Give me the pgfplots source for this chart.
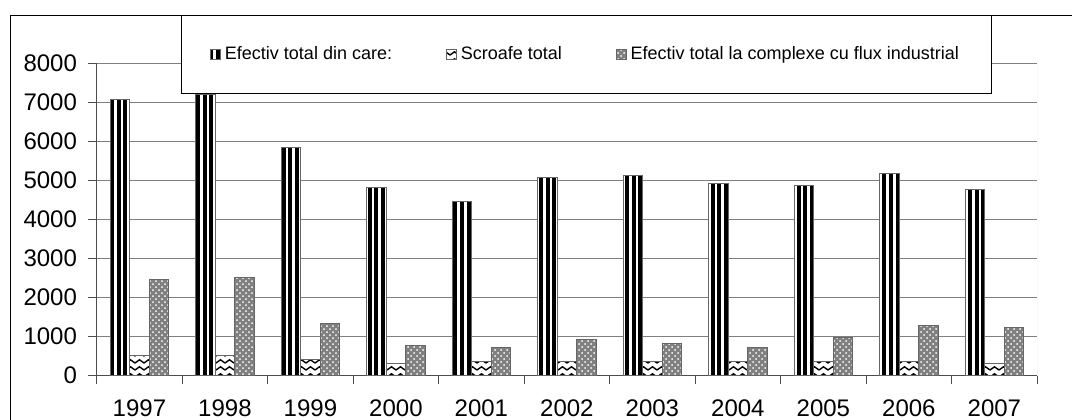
\documentclass[border=0pt]{standalone}
\usepackage{fontspec}
\setmainfont{Liberation Sans}
\usepackage{pgfplots}
\pgfplotsset{compat=1.18}
\usetikzlibrary{patterns,patterns.meta}

% white bars with wavy black lines (sows)
\pgfdeclarepatternformonly{zigzag}{\pgfqpoint{-1pt}{-1pt}}{\pgfqpoint{5.5pt}{3pt}}{\pgfqpoint{4.5pt}{3.5pt}}{%
  \pgfsetlinewidth{0.7pt}
  \pgfpathmoveto{\pgfqpoint{0pt}{0pt}}
  \pgfpathlineto{\pgfqpoint{2.25pt}{1.6pt}}
  \pgfpathlineto{\pgfqpoint{4.5pt}{0pt}}
  \pgfusepath{stroke}
}

\pgfplotsset{
  totalbar/.style={draw=black!60, line width=0.4pt, fill=white,
    postaction={pattern={Lines[angle=90,distance=3.3pt,line width=2pt]}, pattern color=black}},
  sowbar/.style={draw=black!60, line width=0.4pt, fill=white,
    postaction={pattern=zigzag, pattern color=black}},
  indbar/.style={draw=black!60, line width=0.4pt, fill=gray,
    postaction={pattern=crosshatch dots, pattern color=white}},
}

\begin{document}
\begin{tikzpicture}
\useasboundingbox (0,0) rectangle (536pt,-209.5pt);
\clip (0,0) rectangle (536pt,-209.5pt);
\draw[black, line width=0.5pt] (5.35pt,-7.5pt) rectangle (560pt,-230pt);
\begin{axis}[
    at={(48.35pt,-187.85pt)}, anchor=south west,
    scale only axis,
    width=470.2pt, height=156.2pt,
    ybar=0pt, bar width=9.7pt,
    xmin=-0.5, xmax=10.5,
    ymin=0, ymax=8000,
    ytick={0,1000,...,8000},
    xtick={0,...,10},
    xticklabels={1997,1998,1999,2000,2001,2002,2003,2004,2005,2006,2007},
    minor xtick={-0.5,0.5,...,10.5},
    axis x line*=bottom, axis y line*=left,
    axis line style={black!70, line width=0.5pt},
    tick align=outside,
    major tick length=4.35pt, minor tick length=4.35pt,
    tick style={black!70, line width=0.5pt},
    major x tick style={draw=none},
    ymajorgrids=true,
    grid style={gray, line width=0.5pt},
    /pgf/number format/assume math mode=true,
    /pgf/number format/1000 sep={},
    ticklabel style={font=\fontsize{12}{14}\selectfont},
    yticklabel style={xshift=-2pt},
    xticklabel style={yshift=-4pt},
    legend columns=3,
    legend image code/.code={\draw[#1] (0pt,-2.6pt) rectangle (5pt,2.6pt);},
    legend style={at={(rel axis cs:0.0893,1.1546)}, anchor=north west,
      draw=black, line width=0.5pt, fill=white,
      font=\fontsize{9}{11}\selectfont,
      inner xsep=14.5pt, inner ysep=13.5pt,
      /tikz/column 2/.style={column sep=25pt},
      /tikz/column 4/.style={column sep=25pt}},
]
\draw[gray!40, line width=0.5pt] (rel axis cs:1,0) -- (rel axis cs:1,1);

\addplot[totalbar] coordinates {
  (0,7080) (1,7200) (2,5840) (3,4825) (4,4455) (5,5070)
  (6,5120) (7,4927) (8,4875) (9,5173) (10,4763)
};
\addlegendentry{Efectiv total din care:}

\addplot[sowbar] coordinates {
  (0,522) (1,522) (2,420) (3,307) (4,376) (5,368)
  (6,376) (7,376) (8,376) (9,376) (10,316)
};
\addlegendentry{Scroafe total}

\addplot[indbar] coordinates {
  (0,2468) (1,2520) (2,1342) (3,768) (4,727) (5,932)
  (6,830) (7,727) (8,973) (9,1280) (10,1239)
};
\addlegendentry{Efectiv total la complexe cu flux industrial}

\end{axis}
\end{tikzpicture}
\end{document}
